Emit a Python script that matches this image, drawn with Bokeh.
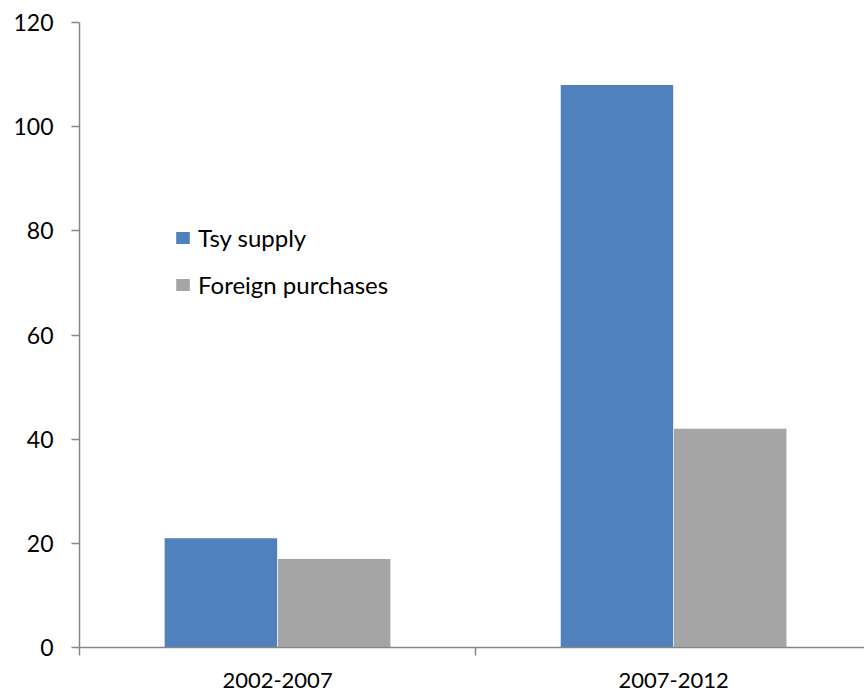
import numpy as np
from bokeh.plotting import figure
from bokeh.models import Range1d, FixedTicker, ColumnDataSource
from bokeh.embed import file_html
from bokeh.resources import INLINE

# ---- data ----
periods = ["2002-2007", "2007-2012"]
tsy_supply = [21, 108]
foreign_purchases = [17, 42]
series_names = ["Tsy supply", "Foreign purchases"]
y_ticks = [0, 20, 40, 60, 80, 100, 120]

BLUE = "#4F81BD"
GREY = "#A5A5A5"
AXIS = "#868686"
FONT = "Lato"

centers = np.arange(len(periods)) + 0.5
bar_w = 0.284
offset = 0.143

src = ColumnDataSource(dict(
    x_tsy=centers - offset,
    x_for=centers + offset,
    tsy=tsy_supply,
    foreign=foreign_purchases,
))

p = figure(width=864, height=692, output_backend="svg", toolbar_location=None,
           x_range=Range1d(0, 1.982), y_range=Range1d(0, 120),
           min_border_left=79, min_border_right=0, min_border_top=22,
           min_border_bottom=45)

p.vbar(x="x_tsy", top="tsy", width=bar_w, source=src, fill_color=BLUE,
       line_color=None, legend_label=series_names[0])
p.vbar(x="x_for", top="foreign", width=bar_w, source=src, fill_color=GREY,
       line_color=None, legend_label=series_names[1])

p.xgrid.visible = False
p.ygrid.visible = False
p.outline_line_color = None
p.background_fill_color = "white"
p.border_fill_color = "white"

# y axis
p.yaxis.ticker = FixedTicker(ticks=y_ticks)
p.yaxis.axis_line_color = AXIS
p.yaxis.axis_line_width = 1.5
p.yaxis.major_tick_line_color = AXIS
p.yaxis.major_tick_line_width = 1.5
p.yaxis.major_tick_out = 8
p.yaxis.major_tick_in = 0
p.yaxis.minor_tick_line_color = None
p.yaxis.major_label_standoff = 18
p.yaxis.major_label_text_font = FONT
p.yaxis.major_label_text_font_size = "23px"
p.yaxis.major_label_text_color = "black"

# x axis: labels at category centres, ticks at category boundaries
p.xaxis.ticker = FixedTicker(ticks=list(centers),
                             minor_ticks=list(np.arange(len(periods) + 1)))
p.xaxis.major_label_overrides = {float(c): lab for c, lab in zip(centers, periods)}
p.xaxis.axis_line_color = AXIS
p.xaxis.axis_line_width = 1.5
p.xaxis.major_tick_line_color = None
p.xaxis.major_tick_out = 0
p.xaxis.major_tick_in = 0
p.xaxis.minor_tick_line_color = AXIS
p.xaxis.minor_tick_line_width = 1.5
p.xaxis.minor_tick_out = 8
p.xaxis.minor_tick_in = 0
p.xaxis.major_label_standoff = 17
p.xaxis.major_label_text_font = FONT
p.xaxis.major_label_text_font_size = "22px"
p.xaxis.major_label_text_color = "black"

# legend
lg = p.legend[0]
lg.location = (95, 348)
lg.border_line_color = None
lg.background_fill_alpha = 0
lg.padding = 0
lg.margin = 0
lg.glyph_width = 17
lg.glyph_height = 15
lg.label_standoff = 7
lg.spacing = 18
lg.label_text_font = FONT
lg.label_text_font_size = "24px"
lg.label_text_color = "black"

open("out.html", "w").write(file_html(p, INLINE))
